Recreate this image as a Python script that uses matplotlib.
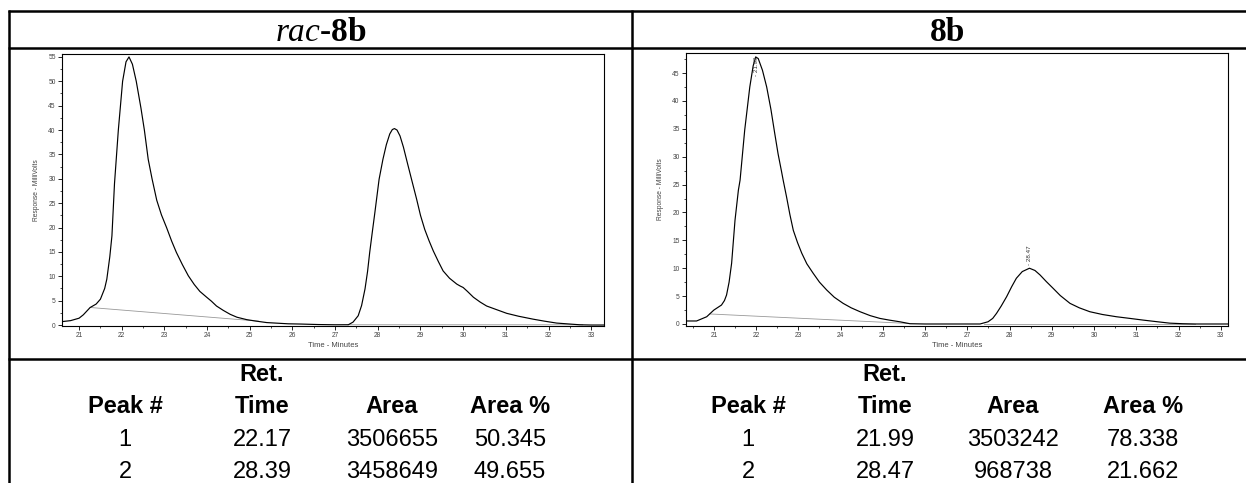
import matplotlib
matplotlib.use('Agg')
import matplotlib.pyplot as plt
from matplotlib.lines import Line2D
from matplotlib.ticker import MultipleLocator

# HPLC traces (time in minutes, response in millivolts)
rac_time = [20.6, 20.8, 21.0, 21.1, 21.26, 21.4, 21.5, 21.6, 21.65, 21.72, 21.77, 21.83,
            21.92, 22.02, 22.1, 22.17, 22.25, 22.34, 22.45, 22.53, 22.62, 22.71, 22.82,
            22.93, 23.05, 23.17, 23.28, 23.42, 23.56, 23.7, 23.83, 23.99, 24.1, 24.22,
            24.38, 24.54, 24.7, 24.93, 25.15, 25.4, 25.7, 25.9, 26.2, 26.6, 27.0, 27.31,
            27.42, 27.54, 27.62, 27.70, 27.76, 27.81, 27.87, 27.93, 28.03, 28.12, 28.2,
            28.28, 28.34, 28.39, 28.45, 28.52, 28.6, 28.7, 28.79, 28.91, 29.0, 29.1, 29.2,
            29.3, 29.42, 29.53, 29.68, 29.85, 29.93, 30.0, 30.1, 30.24, 30.4, 30.55, 30.8,
            31.02, 31.3, 31.64, 31.9, 32.19, 32.5, 32.73, 33.0, 33.3]
rac_mv = [0.7, 0.9, 1.4, 2.1, 3.6, 4.3, 5.3, 7.5, 9.4, 14, 18.3, 29,
          40, 50, 54, 55, 53.5, 50, 44.5, 40, 34, 30, 25.6,
          22.6, 20, 17.2, 14.9, 12.4, 10.1, 8.3, 6.9, 5.7, 4.9, 3.9,
          3.0, 2.2, 1.6, 1.1, 0.8, 0.5, 0.35, 0.25, 0.2, 0.1, 0.05, 0.06,
          0.6, 1.9, 4.0, 7.4, 11, 14.9, 19, 23, 29.9, 34, 37,
          39.2, 40.1, 40.3, 40.0, 38.8, 36.5, 33, 29.9, 25.8, 22.5, 19.6, 17.3,
          15.2, 13.0, 11.1, 9.6, 8.4, 8.0, 7.7, 6.9, 5.7, 4.7, 3.9, 3.1,
          2.4, 1.8, 1.2, 0.8, 0.4, 0.2, 0.05, 0.0, 0.0]

b_time = [20.34, 20.59, 20.83, 21.0, 21.18, 21.25, 21.3, 21.36, 21.42, 21.5, 21.58, 21.62,
          21.73, 21.85, 21.93, 21.99, 22.05, 22.15, 22.25, 22.35, 22.44, 22.52, 22.6,
          22.64, 22.72, 22.8, 22.88, 22.98, 23.08, 23.2, 23.35, 23.5, 23.67, 23.85,
          24.06, 24.25, 24.46, 24.7, 24.93, 25.15, 25.4, 25.64, 26.0, 26.5, 27.0, 27.3,
          27.49, 27.6, 27.69, 27.8, 27.93, 28.05, 28.16, 28.3, 28.47, 28.6, 28.72, 28.87,
          29.03, 29.2, 29.43, 29.65, 29.9, 30.2, 30.53, 30.85, 31.16, 31.5, 31.79, 32.1,
          32.42, 33.17]
b_mv = [0.54, 0.54, 1.3, 2.5, 3.4, 4.2, 5.2, 7.5, 10.9, 18.6, 24, 25.8,
        34.8, 42.5, 46.3, 47.9, 47.6, 45.5, 42.5, 38.5, 34.2, 30.5, 27.4,
        25.8, 22.8, 19.6, 16.8, 14.6, 12.7, 10.8, 9.1, 7.5, 6.1, 4.8,
        3.7, 2.9, 2.2, 1.5, 1.0, 0.7, 0.4, 0.05, 0.0, 0.0, 0.0, 0.0,
        0.4, 1.0, 1.9, 3.2, 4.9, 6.7, 8.2, 9.4, 10.0, 9.6, 8.8, 7.6,
        6.4, 5.1, 3.7, 2.9, 2.2, 1.7, 1.3, 1.0, 0.7, 0.4, 0.15, 0.05,
        0.0, 0.0]

# integration baselines (start/end of each peak)
rac_base_t = [[21.26, 25.2], [27.3, 32.8]]
rac_base_mv = [[3.6, 0.8], [0.06, 0.05]]
b_base_t = [[20.9, 25.6], [27.4, 32.4]]
b_base_mv = [[1.8, 0.1], [0.0, 0.0]]

# peak labels on the 8b trace
b_peak_t = [21.99, 28.47]
b_peak_mv = [47.9, 10.0]

# peak tables
headers = ['Peak #', 'Time', 'Area', 'Area %']
rac_rows = [['1', '22.17', '3506655', '50.345'],
            ['2', '28.39', '3458649', '49.655']]
b_rows = [['1', '21.99', '3503242', '78.338'],
          ['2', '28.47', '968738', '21.662']]

W, H = 1246, 483
plt.rcParams['mathtext.fontset'] = 'custom'
plt.rcParams['mathtext.it'] = 'Liberation Serif:italic'
plt.rcParams['mathtext.bf'] = 'Liberation Serif:bold'
plt.rcParams['mathtext.rm'] = 'Liberation Serif'
plt.rcParams['font.family'] = 'Liberation Sans'

fig = plt.figure(figsize=(W / 100, H / 100), dpi=100)


def fx(px):
    return px / W


def fy(py):
    return 1 - py / H


def hline(y, x0, x1):
    fig.add_artist(Line2D([fx(x0), fx(x1)], [fy(y), fy(y)], color='black', lw=1.8,
                          transform=fig.transFigure, solid_capstyle='butt'))


def vline(x, y0, y1):
    fig.add_artist(Line2D([fx(x), fx(x)], [fy(y0), fy(y1)], color='black', lw=1.8,
                          transform=fig.transFigure, solid_capstyle='butt'))


# table grid
hline(11, 8, W)
hline(48, 8, W)
hline(359, 8, W)
vline(9, 10, H)
vline(632, 10, H)


def chromatogram(left, right, top, t, mv, base_t, base_mv, xlim, ylim):
    ax = fig.add_axes([fx(left), fy(326), fx(right) - fx(left), fy(top) - fy(326)])
    for bt, bm in zip(base_t, base_mv):
        ax.plot(bt, bm, color='#999999', lw=0.6)
    ax.plot(t, mv, color='black', lw=0.85)
    ax.set_xlim(*xlim)
    ax.set_ylim(*ylim)
    ax.xaxis.set_major_locator(MultipleLocator(1))
    ax.xaxis.set_minor_locator(MultipleLocator(0.5))
    ax.yaxis.set_major_locator(MultipleLocator(5))
    ax.yaxis.set_minor_locator(MultipleLocator(2.5))
    ax.tick_params(which='major', length=3, width=0.6, labelsize=4.8,
                   labelcolor='#444444', pad=1.5)
    ax.tick_params(which='minor', length=1.5, width=0.5)
    for s in ax.spines.values():
        s.set_linewidth(0.8)
    ax.set_xlabel('Time - Minutes', fontsize=5.5, color='#444444', labelpad=2)
    ax.set_ylabel('Response - MilliVolts', fontsize=4.8, color='#444444', labelpad=6)
    return ax


ax1 = chromatogram(62, 604, 54, rac_time, rac_mv, rac_base_t, rac_base_mv,
                   (20.6, 33.3), (-0.2, 55.6))
ax2 = chromatogram(686, 1228, 53, b_time, b_mv, b_base_t, b_base_mv,
                   (20.34, 33.17), (-0.36, 48.6))

# retention time labels, the tall one is pushed down inside the frame
for t, v in zip(b_peak_t, b_peak_mv):
    if v > 40:
        ax2.text(t + 0.02, 44.4, '- %.2f' % t, rotation=90, fontsize=4.5,
                 color='#333333', ha='center', va='bottom')
    else:
        ax2.text(t, v + 0.5, '- %.2f' % t, rotation=90, fontsize=4.5,
                 color='#333333', ha='center', va='bottom')

# header row
fig.text(fx(321), fy(41), r'$\mathit{rac}$-$\mathbf{8b}$', fontsize=24,
         family='Liberation Serif', style='italic', ha='center', va='baseline')
fig.text(fx(948), fy(41), '8b', fontsize=24, family='Liberation Serif',
         weight='bold', ha='center', va='baseline')

# peak tables
row_y = [413, 446, 478]
for cols, rows in [([125, 262, 392, 510], rac_rows), ([748, 885, 1013, 1143], b_rows)]:
    fig.text(fx(cols[1]), fy(381), 'Ret.', fontsize=17, weight='bold',
             ha='center', va='baseline')
    for x, h in zip(cols, headers):
        fig.text(fx(x), fy(row_y[0]), h, fontsize=17, weight='bold',
                 ha='center', va='baseline')
    for r, row in enumerate(rows):
        for x, val in zip(cols, row):
            fig.text(fx(x), fy(row_y[r + 1]), val, fontsize=17,
                     ha='center', va='baseline')

fig.savefig('out.png', dpi=100)
